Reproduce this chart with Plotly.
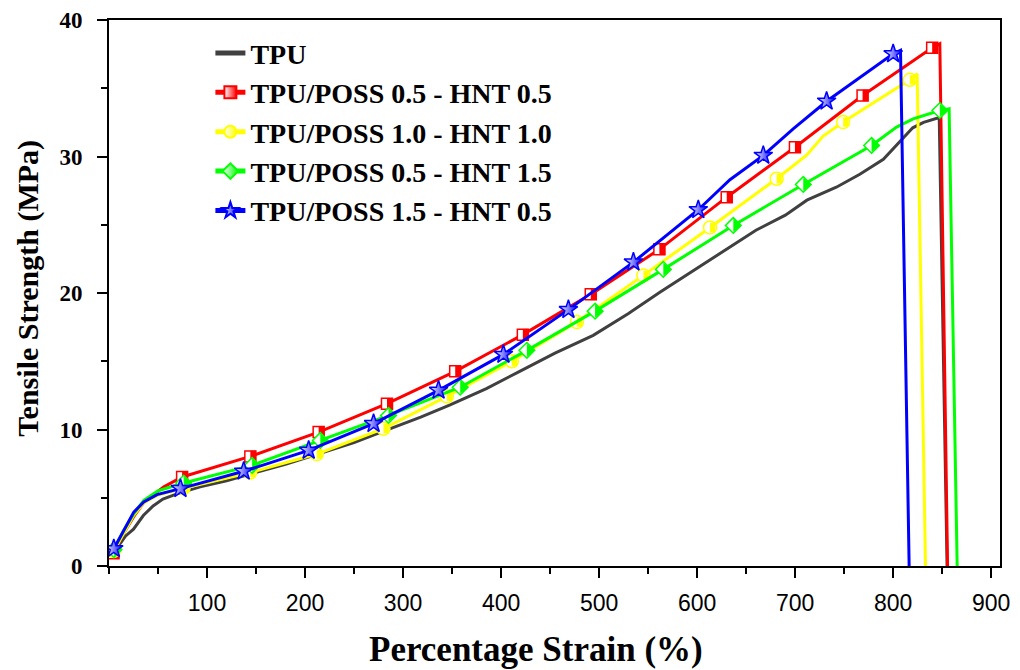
import plotly.graph_objects as go

# ---------------- data ----------------
x_tick_vals = [100, 200, 300, 400, 500, 600, 700, 800, 900]
y_tick_vals = [0, 10, 20, 30, 40]

tpu_x = [5, 10, 17, 25, 35, 45, 55, 70, 93, 120, 145, 180, 213, 250, 281, 318, 348,
         385, 420, 455, 494, 530, 562, 593, 623, 660, 690, 712, 742, 766, 790, 803,
         820, 831, 847, 855]
tpu_y = [1.0, 1.5, 2.2, 2.7, 3.7, 4.4, 4.9, 5.3, 5.8, 6.25, 6.75, 7.45, 8.2, 9.05, 9.9,
         10.9, 11.8, 13.0, 14.3, 15.6, 16.9, 18.5, 20.05, 21.5, 22.9, 24.6, 25.7, 26.8,
         27.75, 28.7, 29.8, 30.8, 32.1, 32.5, 32.85, 0]

red_x = [4.6, 15, 25, 35, 42, 56, 74.6, 144.2, 213.9, 283.6, 353.2, 422.2, 491.5,
         561.5, 630.2, 699.8, 768.8, 839.8, 847.6, 855.5]
red_y = [0.93, 2.4, 3.6, 4.6, 5.05, 5.8, 6.52, 8.03, 9.81, 11.89, 14.26, 16.95, 19.9,
         23.2, 27.02, 30.68, 34.47, 37.96, 38.26, 0]
red_mx = [4.6, 74.6, 144.2, 213.9, 283.6, 353.2, 422.2, 491.5, 561.5, 630.2, 699.8,
          768.8, 839.8]
red_my = [0.93, 6.52, 8.03, 9.81, 11.89, 14.26, 16.95, 19.9, 23.2, 27.02, 30.68,
          34.47, 37.96]

yel_x = [5, 15, 25, 35, 50, 76, 144, 212, 280, 344.7, 411, 477.3, 545.2, 613.2, 681.1,
         711.7, 728.6, 749, 817, 824.5, 833]
yel_y = [1.1, 2.4, 3.7, 4.6, 5.2, 5.7, 6.85, 8.2, 10.06, 12.43, 15.0, 17.87, 21.29,
         24.8, 28.37, 30.1, 31.5, 32.52, 35.62, 36.06, 0]
yel_mx = [5, 76, 144, 212, 280, 344.7, 411, 477.3, 545.2, 613.2, 681.1, 749, 817]
yel_my = [1.1, 5.7, 6.85, 8.2, 10.06, 12.43, 15.0, 17.87, 21.29, 24.8, 28.37, 32.52,
          35.62]

grn_x = [5, 15, 25, 35.5, 50, 76.2, 146, 215.6, 285.2, 358.3, 426.3, 495.9, 565.5,
         636.9, 708.3, 778, 803.5, 820.4, 847.6, 857.1, 865.3]
grn_y = [1.2, 2.6, 3.8, 4.81, 5.5, 6.08, 7.37, 9.2, 11.03, 13.1, 15.8, 18.67, 21.73,
         24.95, 27.95, 30.81, 32.15, 32.76, 33.37, 33.5, 0]
grn_mx = [5, 76.2, 146, 215.6, 285.2, 358.3, 426.3, 495.9, 565.5, 636.9, 708.3, 778,
          847.6]
grn_my = [1.2, 6.08, 7.37, 9.2, 11.03, 13.1, 15.8, 18.67, 21.73, 24.95, 27.95, 30.81,
          33.37]

blu_x = [4.9, 15, 25.3, 35.5, 49, 72.9, 137.4, 203.7, 269.9, 336.2, 402.4, 468.7, 535,
         601.2, 633.5, 667.5, 698, 732.1, 766, 800, 807.5, 816.3]
blu_y = [1.27, 2.6, 3.95, 4.69, 5.23, 5.67, 6.94, 8.47, 10.43, 12.87, 15.5, 18.78,
         22.26, 26.1, 28.3, 30.08, 32.03, 34.05, 35.81, 37.52, 37.77, 0]
blu_mx = [4.9, 72.9, 137.4, 203.7, 269.9, 336.2, 402.4, 468.7, 535, 601.2, 667.5,
          732.1, 800]
blu_my = [1.27, 5.67, 6.94, 8.47, 10.43, 12.87, 15.5, 18.78, 22.26, 26.1, 30.08,
          34.05, 37.52]

names = ["TPU", "TPU/POSS 0.5 - HNT 0.5", "TPU/POSS 1.0 - HNT 1.0",
         "TPU/POSS 0.5 - HNT 1.5", "TPU/POSS 1.5 - HNT 0.5"]

# ---------------- figure ----------------
SERIF = "Liberation Serif, Times New Roman, serif"
SANS = "Liberation Sans, Arial, sans-serif"
LW = 3

fig = go.Figure()

fig.add_trace(go.Scatter(x=tpu_x, y=tpu_y, mode="lines", name=names[0],
                         line=dict(color="#404040", width=LW)))

# (line x, line y, marker x, marker y, name, colour, open symbol, size,
#  half-fill overlay: symbol, size, angle, standoff, stroke width)
specs = [
    (red_x, red_y, red_mx, red_my, names[1], "#FF0000", "square", 11,
     ("line-ew", 8.2, -90, 2.9, 5.8)),
    (yel_x, yel_y, yel_mx, yel_my, names[2], "#FFFF00", "circle", 13,
     ("line-ew", 6.6, -90, 2.6, 5.2)),
    (grn_x, grn_y, grn_mx, grn_my, names[3], "#00FF00", "diamond", 12,
     ("triangle-down", 11.4, -90, 2.85, 0)),
    (blu_x, blu_y, blu_mx, blu_my, names[4], "#0000FF", "star", 14, None),
]
for lx, ly, mx, my, nm, col, sym, sz, half in specs:
    legend_mk = dict(symbol=sym, size=sz, color="white",
                     gradient=dict(type="horizontal", color=col),
                     line=dict(color=col, width=1.5))
    fig.add_trace(go.Scatter(x=lx, y=ly, mode="lines", showlegend=False,
                             line=dict(color=col, width=LW), hoverinfo="skip"))
    if half is None:
        fig.add_trace(go.Scatter(x=mx, y=my, mode="markers", showlegend=False,
                                 marker=legend_mk))
    else:
        hs, hsz, ang, so, sw = half
        fig.add_trace(go.Scatter(x=mx, y=my, mode="markers", showlegend=False,
                                 marker=dict(symbol=sym, size=sz, color="white",
                                             line=dict(color=col, width=1.5))))
        fig.add_trace(go.Scatter(x=mx, y=my, mode="markers", showlegend=False,
                                 hoverinfo="skip",
                                 marker=dict(symbol=hs, size=hsz, color=col,
                                             angle=ang, standoff=so,
                                             line=dict(color=col, width=sw))))
    fig.add_trace(go.Scatter(x=[None], y=[None], mode="lines+markers", name=nm,
                             line=dict(color=col, width=LW), marker=legend_mk))

fig.update_layout(
    width=1020, height=670,
    margin=dict(l=101, r=28, t=12, b=112),
    paper_bgcolor="white", plot_bgcolor="white",
    showlegend=True,
    legend=dict(x=0.1138, y=0.985, xanchor="left", yanchor="top",
                bgcolor="rgba(0,0,0,0)", borderwidth=0,
                font=dict(family=SERIF, size=28, color="black", weight="bold"),
                itemsizing="constant", tracegroupgap=0),
    font=dict(family=SERIF, color="black"),
)

fig.update_xaxes(
    range=[0, 909], showgrid=False, zeroline=False, automargin=False,
    showline=True, linecolor="black", linewidth=2, mirror=True,
    ticks="outside", ticklen=10, tickwidth=2, tickcolor="black",
    tickvals=x_tick_vals, ticktext=[str(v) for v in x_tick_vals],
    tickfont=dict(family=SANS, size=23, color="black"),
    ticklabelstandoff=5,
    minor=dict(dtick=50, tick0=0, ticks="outside", ticklen=6, tickwidth=2,
               tickcolor="black"),
)
fig.update_yaxes(
    range=[0, 40], showgrid=False, zeroline=False, automargin=False,
    showline=True, linecolor="black", linewidth=2, mirror=True,
    ticks="outside", ticklen=10, tickwidth=2, tickcolor="black",
    tickvals=y_tick_vals, ticktext=[str(v) for v in y_tick_vals],
    tickfont=dict(family=SERIF, size=23, color="black", weight="bold"),
    ticklabelstandoff=10,
    minor=dict(dtick=5, tick0=0, ticks="outside", ticklen=6, tickwidth=2,
               tickcolor="black"),
)

fig.add_annotation(text="Percentage Strain (%)", xref="paper", yref="paper",
                   x=0.4787, y=-0.1538, xanchor="center", yanchor="middle",
                   showarrow=False,
                   font=dict(family=SERIF, size=35, color="black", weight="bold"))
fig.add_annotation(text="Tensile Strength (MPa)", xref="paper", yref="paper",
                   x=-0.0909, y=0.508, xanchor="center", yanchor="middle",
                   textangle=-90, showarrow=False,
                   font=dict(family=SERIF, size=30, color="black", weight="bold"))

fig.write_html("out.html")
